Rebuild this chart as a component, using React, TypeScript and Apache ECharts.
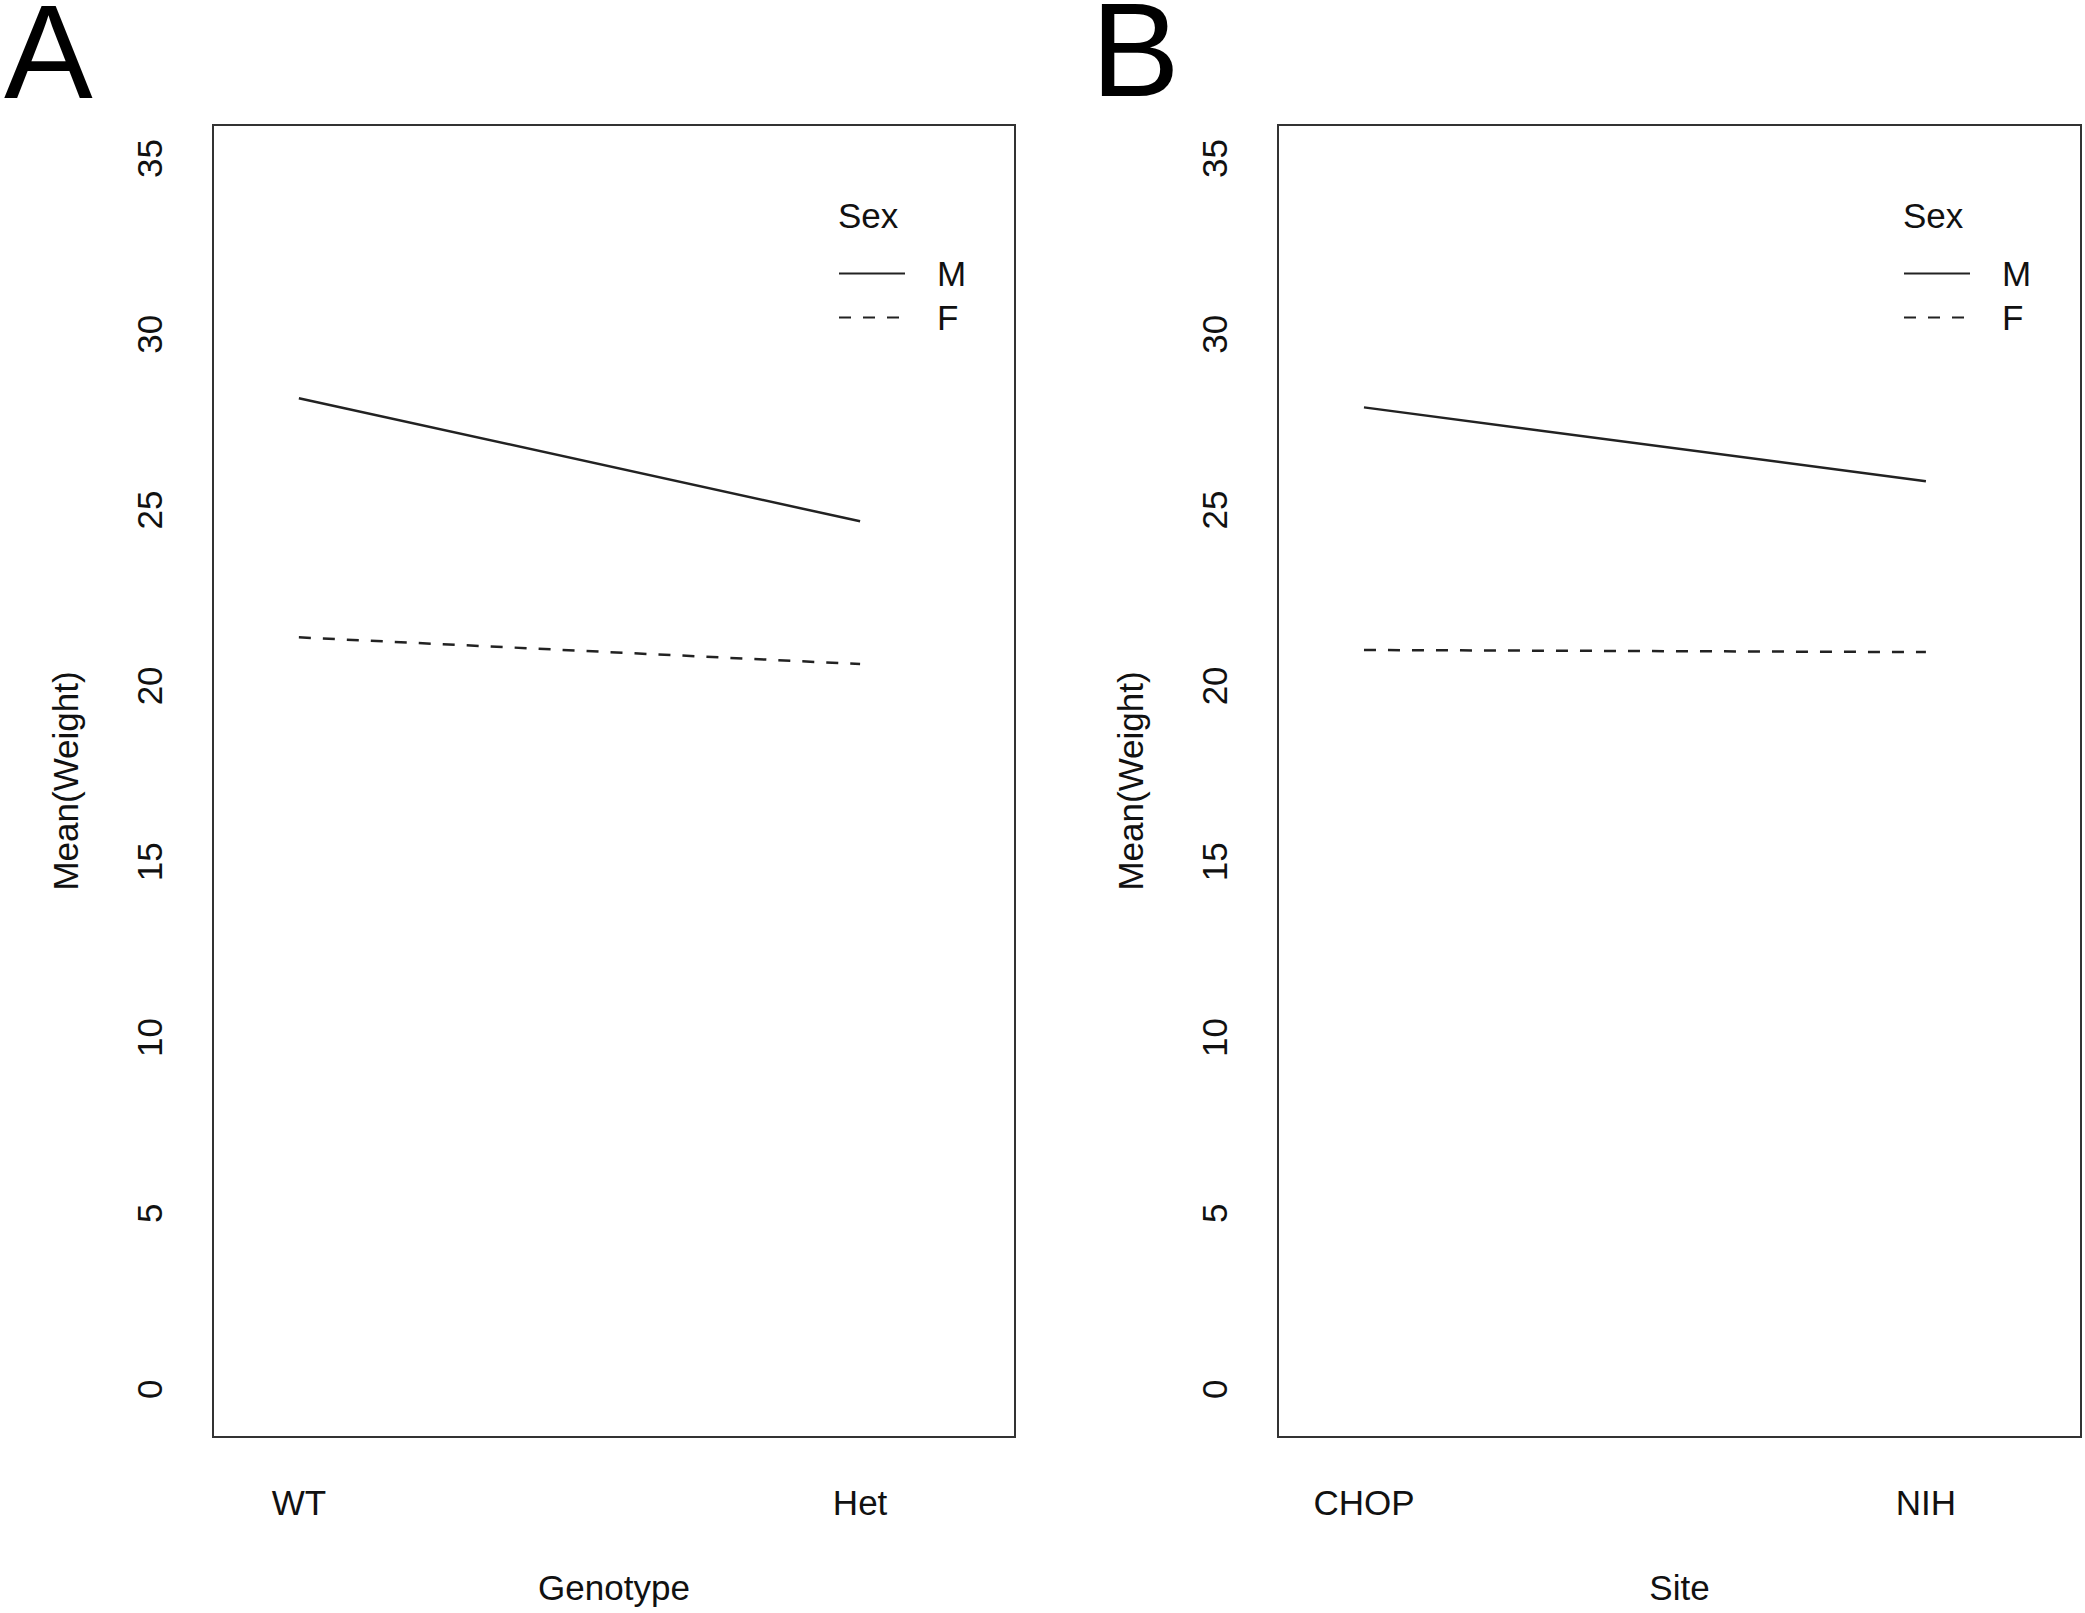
import React, { useEffect, useRef } from "react";
import * as echarts from "echarts";

const categoriesA = ["WT", "Het"];
const categoriesB = ["CHOP", "NIH"];
const maleA = [28.18, 24.68];
const femaleA = [21.38, 20.62];
const maleB = [27.92, 25.82];
const femaleB = [21.02, 20.96];
const yTicks = [0, 5, 10, 15, 20, 25, 30, 35];
const sexLevels = ["M", "F"];

const FONT = "Liberation Sans, Arial, Helvetica, sans-serif";
const LINE = "#222";

export default function App() {
  const ref = useRef<HTMLDivElement>(null);
  useEffect(() => {
    if (!ref.current) return;
    const chart = echarts.init(ref.current, null, { renderer: "svg" });
    const toPts = (arr: number[]) => arr.map((v, i) => [i + 1, v]);
    const xAxisFor = (cats: string[], name: string, gridIndex: number) => ({
      type: "value",
      gridIndex,
      min: 0.847,
      max: 2.276,
      name,
      nameLocation: "middle",
      nameGap: 133,
      nameTextStyle: { fontSize: 35, color: "#111", fontFamily: FONT },
      axisLine: { show: false },
      axisTick: { show: false },
      splitLine: { show: false },
      axisLabel: {
        customValues: [1, 2],
        formatter: (v: number) => cats[Math.round(v) - 1] ?? "",
        fontSize: 35,
        color: "#111",
        fontFamily: FONT,
        margin: 48,
      },
    });
    const yAxisFor = (gridIndex: number) => ({
      type: "value",
      gridIndex,
      min: -1.36,
      max: 35.95,
      name: "Mean(Weight)",
      nameLocation: "middle",
      nameGap: 130,
      nameRotate: 90,
      nameTextStyle: { fontSize: 35, color: "#111", fontFamily: FONT },
      axisLine: { show: false },
      axisTick: { show: false },
      splitLine: { show: false },
      axisLabel: {
        customValues: yTicks,
        rotate: 90,
        fontSize: 35,
        color: "#111",
        fontFamily: FONT,
        margin: 46,
      },
    });
    const lineSeries = (name: string, data: number[], idx: number, dashed: boolean) => ({
      type: "line",
      name,
      xAxisIndex: idx,
      yAxisIndex: idx,
      data: toPts(data),
      symbol: "none",
      showSymbol: false,
      lineStyle: {
        color: LINE,
        width: 2.5,
        type: dashed ? [12, 12] : "solid",
      },
      itemStyle: { color: LINE },
      emphasis: { disabled: true },
    });
    const legendFor = (left: number) => ({
      orient: "vertical",
      left,
      top: 251,
      data: sexLevels,
      itemWidth: 66,
      itemHeight: 14,
      itemGap: 9,
      selectedMode: false,
      itemStyle: { opacity: 0, borderWidth: 0 },
      textStyle: {
        fontSize: 35,
        color: "#111",
        fontFamily: FONT,
        lineHeight: 35,
        padding: [0, 0, 0, 27],
      },
    });
    chart.setOption({
      animation: false,
      backgroundColor: "#fff",
      grid: [
        { left: 213, top: 125, width: 802, height: 1312, show: true, borderColor: "#333", borderWidth: 2, backgroundColor: "transparent" },
        { left: 1278, top: 125, width: 803, height: 1312, show: true, borderColor: "#333", borderWidth: 2, backgroundColor: "transparent" },
      ],
      xAxis: [xAxisFor(categoriesA, "Genotype", 0), xAxisFor(categoriesB, "Site", 1)],
      yAxis: [yAxisFor(0), yAxisFor(1)],
      legend: [legendFor(833), legendFor(1898)],
      series: [
        lineSeries("M", maleA, 0, false),
        lineSeries("F", femaleA, 0, true),
        lineSeries("M", maleB, 1, false),
        lineSeries("F", femaleB, 1, true),
      ],
      graphic: [
        { type: "text", style: { text: "A", x: 4, y: 52, font: `133px ${FONT}`, lineHeight: 100, fill: "#000", verticalAlign: "middle" } },
        { type: "text", style: { text: "B", x: 1091, y: 50, font: `133px ${FONT}`, lineHeight: 100, fill: "#000", verticalAlign: "middle" } },
        { type: "text", style: { text: "Sex", x: 838, y: 215, font: `35px ${FONT}`, fill: "#111", verticalAlign: "middle" } },
        { type: "text", style: { text: "Sex", x: 1903, y: 215, font: `35px ${FONT}`, fill: "#111", verticalAlign: "middle" } },
      ],
    });
    return () => chart.dispose();
  }, []);
  return (
    <div
      ref={ref}
      style={{ position: "fixed", left: 0, top: 0, width: 2085, height: 1613, background: "#fff" }}
    />
  );
}
